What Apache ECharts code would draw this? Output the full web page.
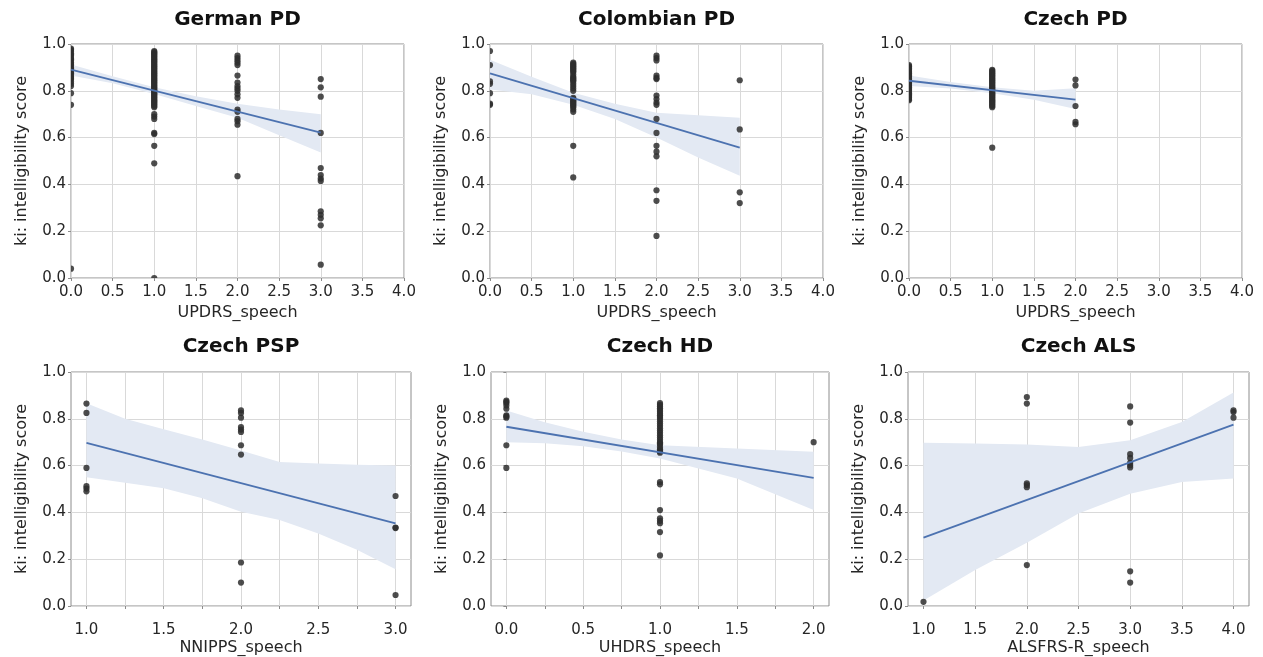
<!DOCTYPE html>
<html>
<head>
<meta charset="utf-8">
<script src="https://cdn.jsdelivr.net/npm/echarts@6/dist/echarts.min.js"></script>
<style>
  html, body { margin: 0; padding: 0; background: #fff; }
  #chart { width: 1263px; height: 657px; }
</style>
</head>
<body>
<div id="chart"></div>
<script>
// ---- data ----
// German PD, scores per UPDRS_speech level
const germanAt0 = [0.98, 0.975, 0.97, 0.96, 0.955, 0.95, 0.94, 0.935, 0.93, 0.92, 0.915, 0.91, 0.90, 0.895, 0.89, 0.88, 0.875, 0.87, 0.86, 0.855, 0.85, 0.84, 0.83, 0.82, 0.79, 0.74, 0.04];
const germanAt1 = [0.97, 0.965, 0.96, 0.955, 0.95, 0.945, 0.94, 0.935, 0.93, 0.925, 0.92, 0.915, 0.91, 0.905, 0.90, 0.895, 0.89, 0.885, 0.88, 0.875, 0.87, 0.865, 0.86, 0.855, 0.85, 0.845, 0.84, 0.835, 0.83, 0.825, 0.82, 0.815, 0.81, 0.805, 0.80, 0.795, 0.79, 0.785, 0.78, 0.775, 0.77, 0.765, 0.76, 0.755, 0.75, 0.745, 0.74, 0.735, 0.73, 0.70, 0.69, 0.68, 0.62, 0.615, 0.565, 0.49, 0.0];
const germanAt2 = [0.95, 0.94, 0.93, 0.92, 0.91, 0.865, 0.835, 0.82, 0.81, 0.80, 0.785, 0.77, 0.72, 0.71, 0.68, 0.67, 0.655, 0.435];
const germanAt3 = [0.85, 0.815, 0.775, 0.62, 0.47, 0.44, 0.425, 0.415, 0.285, 0.27, 0.255, 0.225, 0.057];
const germanFitX = [0, 3];
const germanFitY = [0.891, 0.621];
const germanBandX = [0, 0.5, 1, 1.5, 2, 2.5, 3];
const germanBandLow = [0.865, 0.832, 0.786, 0.735, 0.685, 0.61, 0.536];
const germanBandHigh = [0.912, 0.862, 0.815, 0.777, 0.745, 0.72, 0.70];

// Colombian PD
const colombianAt0 = [0.97, 0.91, 0.84, 0.83, 0.79, 0.745, 0.74];
const colombianAt1 = [0.92, 0.915, 0.91, 0.905, 0.90, 0.895, 0.89, 0.885, 0.88, 0.87, 0.86, 0.855, 0.85, 0.845, 0.84, 0.83, 0.82, 0.81, 0.80, 0.77, 0.765, 0.76, 0.755, 0.75, 0.745, 0.74, 0.735, 0.73, 0.72, 0.71, 0.565, 0.43];
const colombianAt2 = [0.95, 0.94, 0.93, 0.865, 0.855, 0.85, 0.78, 0.765, 0.75, 0.74, 0.68, 0.62, 0.565, 0.54, 0.52, 0.375, 0.33, 0.18];
const colombianAt3 = [0.845, 0.635, 0.366, 0.32];
const colombianFitX = [0, 3];
const colombianFitY = [0.874, 0.557];
const colombianBandX = [0, 0.5, 1, 1.5, 2, 2.5, 3];
const colombianBandLow = [0.806, 0.785, 0.74, 0.68, 0.60, 0.515, 0.437];
const colombianBandHigh = [0.933, 0.86, 0.792, 0.745, 0.706, 0.695, 0.685];

// Czech PD
const czechPdAt0 = [0.91, 0.905, 0.90, 0.895, 0.89, 0.885, 0.88, 0.875, 0.87, 0.865, 0.86, 0.855, 0.85, 0.845, 0.84, 0.835, 0.83, 0.825, 0.82, 0.815, 0.81, 0.805, 0.80, 0.795, 0.79, 0.785, 0.78, 0.775, 0.77, 0.765, 0.76];
const czechPdAt1 = [0.89, 0.885, 0.88, 0.875, 0.87, 0.865, 0.86, 0.855, 0.85, 0.845, 0.84, 0.835, 0.83, 0.825, 0.82, 0.815, 0.81, 0.805, 0.80, 0.795, 0.79, 0.785, 0.78, 0.775, 0.77, 0.765, 0.76, 0.755, 0.75, 0.745, 0.74, 0.735, 0.73, 0.557];
const czechPdAt2 = [0.848, 0.823, 0.735, 0.667, 0.657];
const czechPdFitX = [0, 2];
const czechPdFitY = [0.843, 0.762];
const czechPdBandX = [0, 0.5, 1, 1.5, 2];
const czechPdBandLow = [0.82, 0.81, 0.79, 0.762, 0.722];
const czechPdBandHigh = [0.865, 0.838, 0.815, 0.80, 0.811];

// Czech PSP
const pspAt1 = [0.865, 0.825, 0.59, 0.512, 0.502, 0.49];
const pspAt2 = [0.836, 0.825, 0.805, 0.765, 0.754, 0.744, 0.687, 0.647, 0.186, 0.10];
const pspAt3 = [0.47, 0.335, 0.333, 0.047];
const pspFitX = [1, 3];
const pspFitY = [0.697, 0.353];
const pspBandX = [1, 1.25, 1.5, 1.75, 2, 2.25, 2.5, 2.75, 3];
const pspBandLow = [0.55, 0.527, 0.503, 0.46, 0.403, 0.367, 0.31, 0.24, 0.157];
const pspBandHigh = [0.866, 0.80, 0.755, 0.712, 0.664, 0.615, 0.609, 0.604, 0.60];

// Czech HD
const hdAt0 = [0.878, 0.872, 0.867, 0.857, 0.843, 0.815, 0.81, 0.805, 0.687, 0.59];
const hdAt1 = [0.867, 0.86, 0.853, 0.845, 0.838, 0.83, 0.822, 0.815, 0.808, 0.80, 0.79, 0.78, 0.77, 0.76, 0.75, 0.74, 0.73, 0.72, 0.71, 0.70, 0.695, 0.69, 0.68, 0.67, 0.665, 0.66, 0.655, 0.53, 0.52, 0.41, 0.375, 0.364, 0.354, 0.316, 0.216];
const hdAt2 = [0.70];
const hdFitX = [0, 2];
const hdFitY = [0.766, 0.548];
const hdBandX = [0, 0.25, 0.5, 0.75, 1, 1.5, 2];
const hdBandLow = [0.70, 0.695, 0.683, 0.66, 0.63, 0.545, 0.41];
const hdBandHigh = [0.836, 0.785, 0.745, 0.712, 0.687, 0.673, 0.659];

// Czech ALS
const alsAt1 = [0.018];
const alsAt2 = [0.893, 0.865, 0.524, 0.517, 0.508, 0.175];
const alsAt3 = [0.853, 0.784, 0.649, 0.633, 0.612, 0.602, 0.592, 0.148, 0.10];
const alsAt4 = [0.836, 0.829, 0.805];
const alsFitX = [1, 4];
const alsFitY = [0.292, 0.775];
const alsBandX = [1, 1.5, 2, 2.5, 3, 3.5, 4];
const alsBandLow = [0.023, 0.154, 0.27, 0.395, 0.48, 0.53, 0.545];
const alsBandHigh = [0.698, 0.694, 0.69, 0.68, 0.708, 0.786, 0.912];

// tick values
const pspGridTicks = [1, 1.25, 1.5, 1.75, 2, 2.25, 2.5, 2.75, 3];
const pspLabelTicks = [1, 1.5, 2, 2.5, 3];
const hdGridTicks = [0, 0.25, 0.5, 0.75, 1, 1.25, 1.5, 1.75, 2];
const hdLabelTicks = [0, 0.5, 1, 1.5, 2];
const alsTicks = [1, 1.5, 2, 2.5, 3, 3.5, 4];

// ---- panels ----
const panels = [
  { title: 'German PD', xName: 'UPDRS_speech', groups: [[0, germanAt0], [1, germanAt1], [2, germanAt2], [3, germanAt3]],
    fitX: germanFitX, fitY: germanFitY, bandX: germanBandX, bandLow: germanBandLow, bandHigh: germanBandHigh,
    min: 0, max: 4, interval: 0.5, grid: { left: 71, top: 44, width: 333, height: 234 }, row: 0 },
  { title: 'Colombian PD', xName: 'UPDRS_speech', groups: [[0, colombianAt0], [1, colombianAt1], [2, colombianAt2], [3, colombianAt3]],
    fitX: colombianFitX, fitY: colombianFitY, bandX: colombianBandX, bandLow: colombianBandLow, bandHigh: colombianBandHigh,
    min: 0, max: 4, interval: 0.5, grid: { left: 490, top: 44, width: 333, height: 234 }, row: 0 },
  { title: 'Czech PD', xName: 'UPDRS_speech', groups: [[0, czechPdAt0], [1, czechPdAt1], [2, czechPdAt2]],
    fitX: czechPdFitX, fitY: czechPdFitY, bandX: czechPdBandX, bandLow: czechPdBandLow, bandHigh: czechPdBandHigh,
    min: 0, max: 4, interval: 0.5, grid: { left: 909, top: 44, width: 333, height: 234 }, row: 0 },
  { title: 'Czech PSP', xName: 'NNIPPS_speech', groups: [[1, pspAt1], [2, pspAt2], [3, pspAt3]],
    fitX: pspFitX, fitY: pspFitY, bandX: pspBandX, bandLow: pspBandLow, bandHigh: pspBandHigh,
    min: 0.9, max: 3.1, gridTicks: pspGridTicks, labelTicks: pspLabelTicks, grid: { left: 71, top: 372, width: 340, height: 234 }, row: 1 },
  { title: 'Czech HD', xName: 'UHDRS_speech', groups: [[0, hdAt0], [1, hdAt1], [2, hdAt2]],
    fitX: hdFitX, fitY: hdFitY, bandX: hdBandX, bandLow: hdBandLow, bandHigh: hdBandHigh,
    min: -0.1, max: 2.1, gridTicks: hdGridTicks, labelTicks: hdLabelTicks, grid: { left: 491, top: 372, width: 338, height: 234 }, row: 1 },
  { title: 'Czech ALS', xName: 'ALSFRS-R_speech', groups: [[1, alsAt1], [2, alsAt2], [3, alsAt3], [4, alsAt4]],
    fitX: alsFitX, fitY: alsFitY, bandX: alsBandX, bandLow: alsBandLow, bandHigh: alsBandHigh,
    min: 0.85, max: 4.15, gridTicks: alsTicks, labelTicks: alsTicks, grid: { left: 908, top: 372, width: 341, height: 234 }, row: 1 }
];

const FONT = 'DejaVu Sans';
const TEXT = '#262626';
const LINE = '#4c72b0';
const BAND = '#e3e9f3';
const DOT = '#2e2e2e';

const grids = [], xAxes = [], yAxes = [], titles = [], series = [];

panels.forEach(function (p, i) {
  grids.push(Object.assign({ show: true, borderColor: '#8c8c8c', borderWidth: 1, containLabel: false }, p.grid));

  titles.push({
    text: p.title,
    left: p.grid.left + p.grid.width / 2,
    top: p.row === 0 ? 10 : 337,
    textAlign: 'center',
    padding: 0,
    textStyle: { fontFamily: FONT, fontSize: 20, fontWeight: 'bold', color: '#111' }
  });

  const x = {
    type: 'value', gridIndex: i, min: p.min, max: p.max,
    name: p.xName, nameLocation: 'middle', nameGap: p.row === 0 ? 27 : 34,
    nameTextStyle: { fontFamily: FONT, fontSize: 16, color: TEXT },
    axisLine: { show: false },
    axisTick: { show: true, length: 3, lineStyle: { color: '#8c8c8c' } },
    axisLabel: { fontFamily: FONT, fontSize: 15, color: TEXT, margin: p.row === 0 ? 7 : 17,
      formatter: function (v) { return v.toFixed(1); } },
    splitLine: { show: true, lineStyle: { color: '#d9d9d9', width: 1 } }
  };
  if (p.interval) {
    x.interval = p.interval;
  } else {
    x.axisTick.customValues = p.gridTicks;
    x.axisLabel.customValues = p.labelTicks;
  }
  xAxes.push(x);

  yAxes.push({
    type: 'value', gridIndex: i, min: 0, max: 1, interval: 0.2,
    name: 'ki: intelligibility score', nameLocation: 'middle', nameGap: 41, nameRotate: 90,
    nameTextStyle: { fontFamily: FONT, fontSize: 16, color: TEXT },
    axisLine: { show: false },
    axisTick: { show: true, length: 3, lineStyle: { color: '#8c8c8c' } },
    axisLabel: { fontFamily: FONT, fontSize: 15, color: TEXT, margin: 5,
      formatter: function (v) { return v.toFixed(1); } },
    splitLine: { show: true, lineStyle: { color: '#d9d9d9', width: 1 } }
  });

  // confidence band as one polygon through the axis scales
  series.push({
    type: 'custom', xAxisIndex: i, yAxisIndex: i, silent: true, z: 1,
    data: p.bandX.map(function (bx, k) { return [bx, p.bandLow[k], p.bandHigh[k]]; }),
    encode: { x: 0, y: [1, 2] },
    renderItem: function (params, api) {
      if (params.dataIndex !== 0) return null;
      const upper = p.bandX.map(function (bx, k) { return api.coord([bx, p.bandHigh[k]]); });
      const lower = p.bandX.map(function (bx, k) { return api.coord([bx, p.bandLow[k]]); }).reverse();
      return { type: 'polygon', shape: { points: upper.concat(lower) }, style: { fill: BAND } };
    }
  });

  // points, clipped to the plot frame like the original
  const pts = [];
  p.groups.forEach(function (g) { g[1].forEach(function (v) { pts.push([g[0], v]); }); });
  series.push({
    type: 'custom', xAxisIndex: i, yAxisIndex: i, z: 2, clip: true, silent: true,
    data: pts, encode: { x: 0, y: 1 },
    renderItem: function (params, api) {
      const c = api.coord([api.value(0), api.value(1)]);
      return { type: 'circle', shape: { cx: c[0], cy: c[1], r: 3.1 }, style: { fill: DOT, opacity: 0.85 } };
    }
  });

  series.push({
    type: 'line', xAxisIndex: i, yAxisIndex: i, z: 3, symbol: 'none',
    data: p.fitX.map(function (fx, k) { return [fx, p.fitY[k]]; }),
    lineStyle: { color: LINE, width: 1.8 }
  });
});

const chart = echarts.init(document.getElementById('chart'), null, { renderer: 'canvas' });
chart.setOption({
  animation: false,
  backgroundColor: '#fff',
  title: titles,
  grid: grids,
  xAxis: xAxes,
  yAxis: yAxes,
  series: series
});
</script>
</body>
</html>
